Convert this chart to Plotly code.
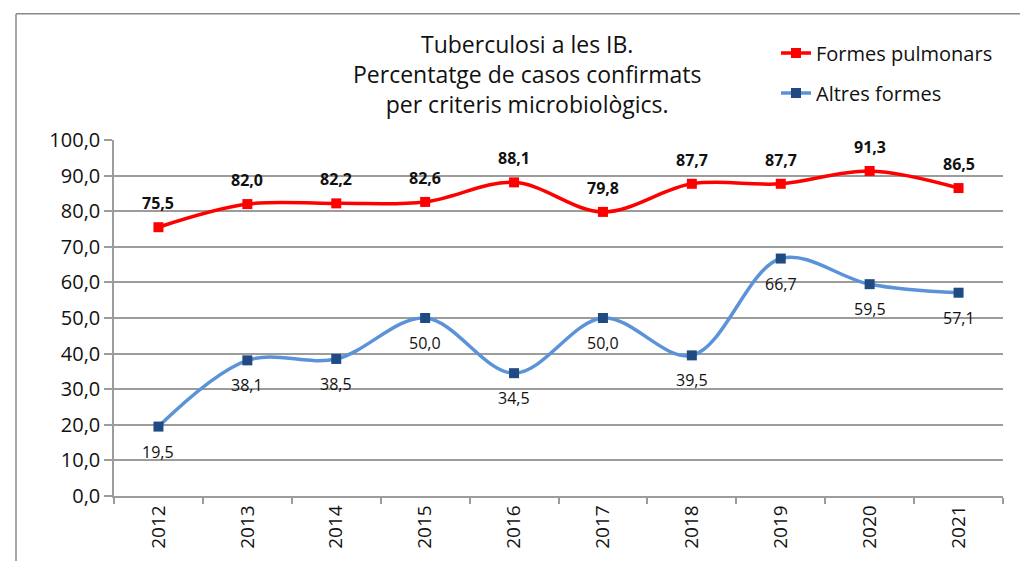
import plotly.graph_objects as go

years = ["2012", "2013", "2014", "2015", "2016", "2017", "2018", "2019", "2020", "2021"]
pulmonars = [75.5, 82.0, 82.2, 82.6, 88.1, 79.8, 87.7, 87.7, 91.3, 86.5]
altres = [19.5, 38.1, 38.5, 50.0, 34.5, 50.0, 39.5, 66.7, 59.5, 57.1]
y_ticks = [0, 10, 20, 30, 40, 50, 60, 70, 80, 90, 100]

title_lines = ["Tuberculosi a les IB.", "Percentatge de casos confirmats", "per criteris microbiològics."]

FONT = "Open Sans"
GRID = "#9c9c9c"

fig = go.Figure()
fig.add_trace(go.Scatter(
    x=years, y=pulmonars, name="Formes pulmonars",
    mode="lines+markers", legendgroup="a",
    line=dict(color="#FF0000", width=3.5, shape="spline"),
    marker=dict(symbol="square", size=10, color="#FF0000"),
))
fig.add_trace(go.Scatter(
    x=years, y=altres, name="Altres formes",
    mode="lines+markers", legendgroup="b",
    line=dict(color="#5B93D8", width=3.5, shape="spline"),
    marker=dict(symbol="square", size=10, color="#1F4A82"),
))

def fmt(v):
    return f"{v:.1f}".replace(".", ",")

# data labels; on a category axis annotation x is the category index
for i, yv in enumerate(pulmonars):
    fig.add_annotation(x=i, y=yv, xref="x", yref="y", text=f"<b>{fmt(yv)}</b>",
                       showarrow=False, yshift=24, yanchor="middle",
                       font=dict(family=FONT, size=16, color="#111111"))
for i, yv in enumerate(altres):
    fig.add_annotation(x=i, y=yv, xref="x", yref="y", text=fmt(yv),
                       showarrow=False, yshift=-25, yanchor="middle",
                       font=dict(family=FONT, size=16, color="#111111"))

L, R, T, B = 114, 17, 140, 63
W, H = 1020, 561
pw, ph = W - L - R, H - T - B

def px_x(x):
    return (x - L) / pw

def px_y(y):
    return (H - B - y) / ph

fig.add_annotation(
    text="<br>".join(title_lines), xref="paper", yref="paper",
    x=px_x(527), y=px_y(74), xanchor="center", yanchor="middle",
    showarrow=False, align="center",
    font=dict(family=FONT, size=23, color="#111111"),
)

# outer chart border (left and top edges visible)
fig.add_shape(type="line", xref="paper", yref="paper",
              x0=px_x(16), x1=px_x(16), y0=px_y(13), y1=px_y(570),
              line=dict(color="#8a8a8a", width=1.5))
fig.add_shape(type="line", xref="paper", yref="paper",
              x0=px_x(16), x1=px_x(1030), y0=px_y(13), y1=px_y(13),
              line=dict(color="#8a8a8a", width=1.5))

fig.update_layout(
    width=W, height=H,
    margin=dict(l=L, r=R, t=T, b=B),
    paper_bgcolor="white", plot_bgcolor="white",
    separators=",.",
    font=dict(family=FONT, color="#111111"),
    showlegend=True,
    legend=dict(
        x=px_x(776), y=px_y(33), xanchor="left", yanchor="top",
        font=dict(family=FONT, size=20, color="#111111"),
        bgcolor="rgba(0,0,0,0)", traceorder="grouped", tracegroupgap=11,
    ),
    xaxis=dict(
        type="category", tickson="boundaries", ticks="outside", ticklen=6,
        tickcolor=GRID, tickwidth=1.5, tickangle=-90,
        showline=True, linecolor=GRID, linewidth=1.5,
        showgrid=False, tickfont=dict(family=FONT, size=19, color="#111111"),
        range=[-0.5, len(years) - 0.5], fixedrange=True,
    ),
    yaxis=dict(
        range=[0, 100], tickvals=y_ticks, tickformat=".1f",
        ticks="outside", ticklen=8, tickcolor=GRID, tickwidth=1.5,
        showline=True, linecolor=GRID, linewidth=1.5,
        showgrid=True, gridcolor=GRID, gridwidth=1.5,
        zeroline=False, tickfont=dict(family=FONT, size=20, color="#111111"),
    ),
)

fig.write_html("out.html", config={"displayModeBar": False},
               post_script="document.body.style.margin='0';document.body.style.overflow='hidden';")
